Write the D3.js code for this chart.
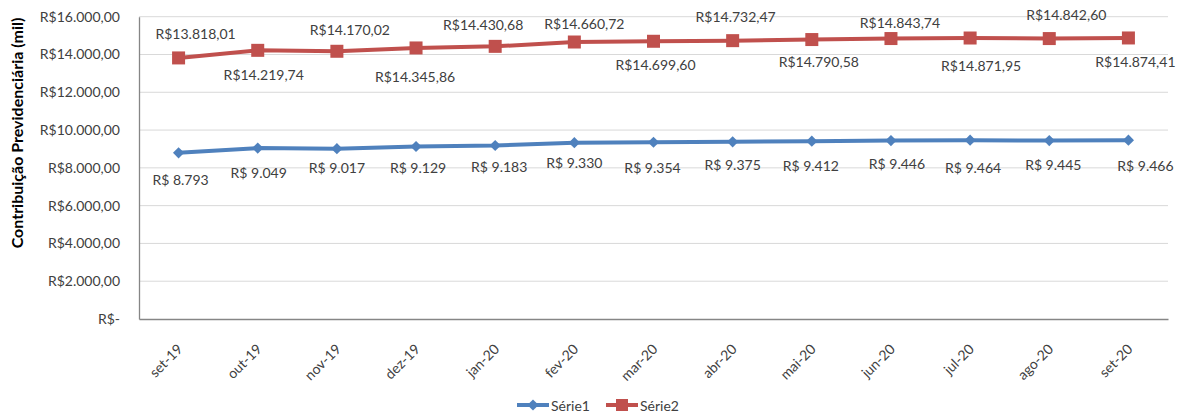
<!DOCTYPE html>
<html>
<head>
<meta charset="utf-8">
<script src="https://cdn.jsdelivr.net/npm/d3@7"></script>
<style>
  body { margin: 0; background: #fff; }
  text { font-family: Lato, "Open Sans", sans-serif; fill: #404040; }
</style>
</head>
<body>
<svg id="chart" width="1183" height="416"></svg>
<script>
// data
const months = ["set-19","out-19","nov-19","dez-19","jan-20","fev-20","mar-20","abr-20","mai-20","jun-20","jul-20","ago-20","set-20"];
const serie1 = [8793, 9049, 9017, 9129, 9183, 9330, 9354, 9375, 9412, 9446, 9464, 9445, 9466];
const serie2 = [13818.01, 14219.74, 14170.02, 14345.86, 14430.68, 14660.72, 14699.60, 14732.47, 14790.58, 14843.74, 14871.95, 14842.60, 14874.41];
const yTicks = [0, 2000, 4000, 6000, 8000, 10000, 12000, 14000, 16000];

// label nudges (dx, dy from the point), as placed in the original
const nudge1 = [[2,27],[1,24],[0,19],[2,21],[4,21],[0,20],[-1,25],[0,23],[-1,24],[6,23],[3,27],[4,24],[17,25]];
const nudge2 = [[17,-24],[6,24],[13,-22],[-1,29],[-12,-22],[10,-19],[2,23],[3,-24],[7,22],[9,-16],[11,27],[17,-24],[7,24]];

const svg = d3.select("#chart");
const m = {left: 139, right: 1168, top: 16.7, bottom: 319};
const fs = "14px";

const br = d3.formatLocale({decimal: ",", thousands: ".", grouping: [3], currency: ["R$", ""]});
const fmtAxis = v => v === 0 ? "R$-" : "R$" + br.format(",.2f")(v);
const fmt1 = v => "R$ " + br.format(",.0f")(v);
const fmt2 = v => "R$" + br.format(",.2f")(v);

const x = d3.scaleBand().domain(months).range([m.left, m.right]);
const y = d3.scaleLinear().domain([0, 16000]).range([m.bottom, m.top]);
const cx = d => x(d) + x.bandwidth() / 2;

// gridlines
svg.append("g").selectAll("line").data(yTicks.filter(d => d > 0)).join("line")
  .attr("x1", m.left).attr("x2", m.right)
  .attr("y1", d => y(d)).attr("y2", d => y(d))
  .attr("stroke", "#d9d9d9").attr("stroke-width", 1);

// y axis
const yAxis = svg.append("g").attr("transform", `translate(${m.left},0)`)
  .call(d3.axisLeft(y).tickValues(yTicks).tickFormat(fmtAxis).tickSize(0).tickPadding(19));
yAxis.select(".domain").attr("stroke", "#868686").attr("stroke-width", 1.3);
yAxis.selectAll("text").style("font-size", fs).attr("fill", "#404040")
  .style("font-family", "Lato, sans-serif");

// x axis
const xAxis = svg.append("g").attr("transform", `translate(0,${m.bottom})`)
  .call(d3.axisBottom(x).tickSize(0).tickPadding(0));
xAxis.select(".domain").attr("stroke", "#868686").attr("stroke-width", 1.3);
xAxis.selectAll("text")
  .style("font-size", fs).attr("fill", "#404040")
  .style("font-family", "Lato, sans-serif")
  .attr("text-anchor", "end")
  .attr("dy", 0).attr("y", 0)
  .attr("transform", "translate(5,31) rotate(-45)");

// y title
svg.append("text")
  .attr("transform", "translate(23,133) rotate(-90)")
  .attr("text-anchor", "middle")
  .style("font-size", "16px").style("font-weight", "bold").style("fill", "#000")
  .text("Contribuição Previdenciária  (mil)");

const line = d3.line().x((d, i) => cx(months[i])).y(d => y(d));
const blue = "#4f81bd", red = "#c0504d";

svg.append("path").datum(serie1).attr("d", line)
  .attr("fill", "none").attr("stroke", blue).attr("stroke-width", 4).attr("stroke-linejoin", "round");
svg.append("path").datum(serie2).attr("d", line)
  .attr("fill", "none").attr("stroke", red).attr("stroke-width", 4).attr("stroke-linejoin", "round");

const diamond = d3.symbol().type(d3.symbolDiamond2).size(80);
svg.append("g").selectAll("path").data(serie1).join("path")
  .attr("d", diamond)
  .attr("transform", (d, i) => `translate(${cx(months[i])},${y(d)})`)
  .attr("fill", blue);

svg.append("g").selectAll("rect").data(serie2).join("rect")
  .attr("x", (d, i) => cx(months[i]) - 6.5).attr("y", d => y(d) - 6.5)
  .attr("width", 13).attr("height", 13)
  .attr("fill", red);

// data labels
svg.append("g").selectAll("text").data(serie1).join("text")
  .attr("x", (d, i) => cx(months[i]) + nudge1[i][0])
  .attr("y", (d, i) => y(d) + nudge1[i][1])
  .attr("text-anchor", "middle").attr("dominant-baseline", "central")
  .style("font-size", fs)
  .text(fmt1);

svg.append("g").selectAll("text").data(serie2).join("text")
  .attr("x", (d, i) => cx(months[i]) + nudge2[i][0])
  .attr("y", (d, i) => y(d) + nudge2[i][1])
  .attr("text-anchor", "middle").attr("dominant-baseline", "central")
  .style("font-size", fs)
  .text(fmt2);

// legend
const legend = svg.append("g").attr("transform", "translate(517,405)");
const items = [{name: "Série1", color: blue, shape: "diamond"}, {name: "Série2", color: red, shape: "square"}];
const li = legend.selectAll("g").data(items).join("g")
  .attr("transform", (d, i) => `translate(${i * 89},0)`);
li.append("line").attr("x1", 0).attr("x2", 32).attr("stroke", d => d.color).attr("stroke-width", 4);
li.filter(d => d.shape === "diamond").append("path")
  .attr("d", diamond).attr("transform", "translate(16,0)").attr("fill", blue);
li.filter(d => d.shape === "square").append("rect")
  .attr("x", 10).attr("y", -6).attr("width", 12).attr("height", 12).attr("fill", red);
li.append("text").attr("x", 34).attr("dominant-baseline", "central")
  .style("font-size", fs).text(d => d.name);
</script>
</body>
</html>
